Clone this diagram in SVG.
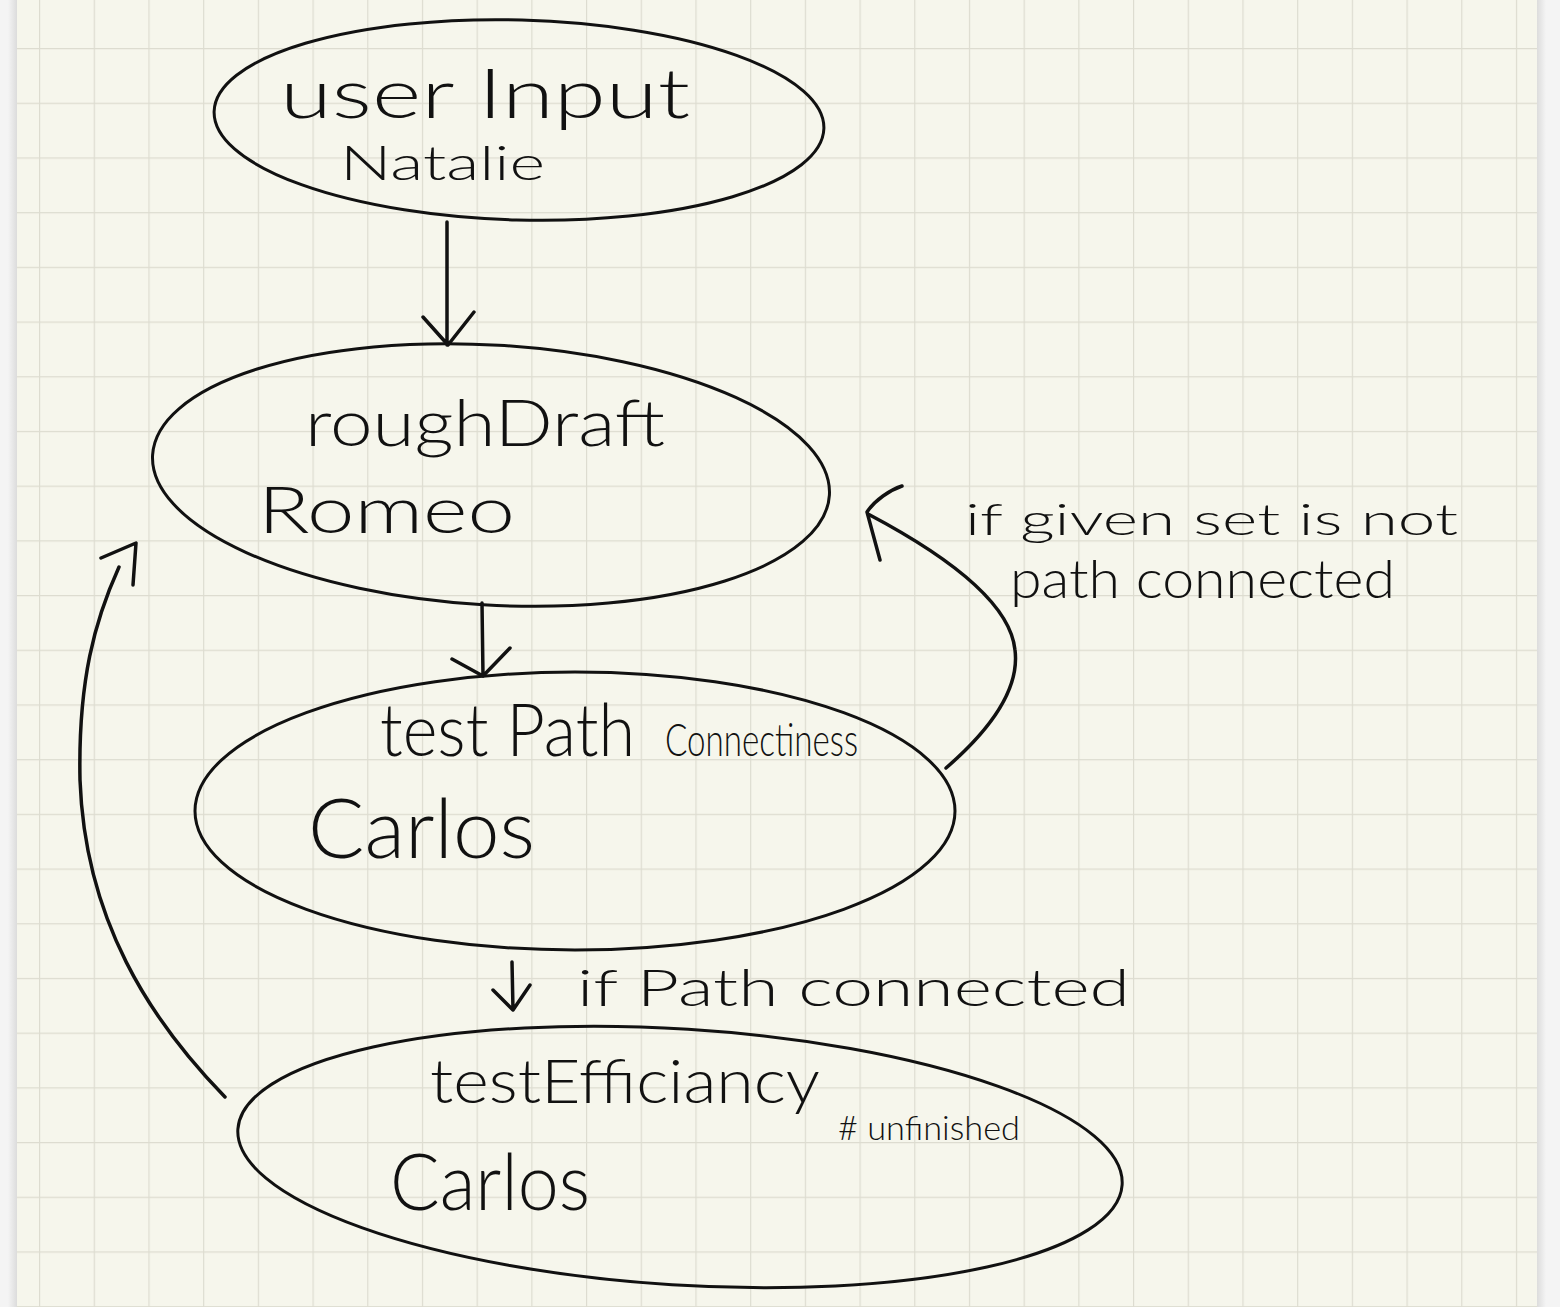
<svg xmlns="http://www.w3.org/2000/svg" width="1560" height="1307" viewBox="0 0 1560 1307">
<style>
.ink{fill:none;stroke:#111;stroke-width:3;stroke-linecap:round;stroke-linejoin:round}
.arrow{fill:none;stroke:#111;stroke-width:3.5;stroke-linecap:round;stroke-linejoin:round}
.t{font-family:"Lato","Liberation Sans","DejaVu Sans",sans-serif;font-weight:300;fill:#111}
</style>
<defs>
<pattern id="grid" patternUnits="userSpaceOnUse" x="39" y="48" width="54.7" height="54.7">
<path d="M0,0 H54.7 M0,0 V54.7" stroke="#dddcd0" stroke-width="2.4" fill="none"/>
</pattern>
<linearGradient id="shL" x1="0" x2="1" y1="0" y2="0">
<stop offset="0" stop-color="#f4f4f4"/><stop offset="1" stop-color="#dcdcdc"/>
</linearGradient>
<linearGradient id="shR" x1="0" x2="1" y1="0" y2="0">
<stop offset="0" stop-color="#dcdcdc"/><stop offset="1" stop-color="#f4f4f4"/>
</linearGradient>
</defs>
<rect x="0" y="0" width="1560" height="1307" fill="#f4f4f4"/>
<rect x="8" y="0" width="9" height="1307" fill="url(#shL)"/>
<rect x="1537" y="0" width="9" height="1307" fill="url(#shR)"/>
<rect x="17" y="0" width="1520" height="1307" fill="#f6f6ec"/>
<rect x="17" y="0" width="1520" height="1307" fill="url(#grid)"/>

<g id="node-user-input">
<ellipse class="ink" cx="519" cy="120" rx="305" ry="100" transform="rotate(1.6 519 120)"/>
<text class="t" x="280" y="118" font-size="68" textLength="410" lengthAdjust="spacingAndGlyphs">user Input</text>
<text class="t" x="340" y="180" font-size="48" textLength="205" lengthAdjust="spacingAndGlyphs">Natalie</text>
</g>

<g id="node-rough-draft">
<ellipse class="ink" cx="491" cy="475" rx="339" ry="130" transform="rotate(3.4 491 475)"/>
<text class="t" x="305" y="446" font-size="66" textLength="360" lengthAdjust="spacingAndGlyphs">roughDraft</text>
<text class="t" x="258" y="533" font-size="66" textLength="257" lengthAdjust="spacingAndGlyphs">Romeo</text>
</g>

<g id="node-test-path">
<ellipse class="ink" cx="575" cy="811" rx="380" ry="139"/>
<text class="t" x="380" y="756" font-size="72" textLength="255" lengthAdjust="spacingAndGlyphs">test Path</text>
<text class="t" x="665" y="756" font-size="46" textLength="193" lengthAdjust="spacingAndGlyphs">Connectiness</text>
<text class="t" x="308" y="858" font-size="82" textLength="227" lengthAdjust="spacingAndGlyphs">Carlos</text>
</g>

<g id="node-test-efficiancy">
<ellipse class="ink" cx="680" cy="1157" rx="443" ry="128" transform="rotate(3.6 680 1157)"/>
<text class="t" x="430" y="1103" font-size="62" textLength="390" lengthAdjust="spacingAndGlyphs">testEfficiancy</text>
<text class="t" x="838" y="1140" font-size="34" textLength="182" lengthAdjust="spacingAndGlyphs"># unfinished</text>
<text class="t" x="390" y="1210" font-size="78" textLength="200" lengthAdjust="spacingAndGlyphs">Carlos</text>
</g>

<g id="connectors">
<path class="arrow" d="M447,222 V345 M423,317 L448,345 L474,312"/>
<path class="arrow" d="M482,603 L483,676 M452,659 L483,676 L510,648"/>
<path class="arrow" d="M946,768 C990,730 1020,690 1015,650 C1010,600 940,552 868,514 M902,486 C890,490 875,500 867,512 L880,560"/>
<path class="arrow" d="M225,1097 C150,1020 85,920 80,780 C78,680 95,620 119,567 M101,558 L136,543 L133,585"/>
<path class="arrow" d="M512,962 L513,1010 M493,990 L513,1010 L530,985"/>
<text class="t" x="965" y="535" font-size="44" textLength="493" lengthAdjust="spacingAndGlyphs">if given set is not</text>
<text class="t" x="1010" y="598" font-size="54" textLength="385" lengthAdjust="spacingAndGlyphs">path connected</text>
<text class="t" x="577" y="1006" font-size="52" textLength="553" lengthAdjust="spacingAndGlyphs">if Path connected</text>
</g>
</svg>
